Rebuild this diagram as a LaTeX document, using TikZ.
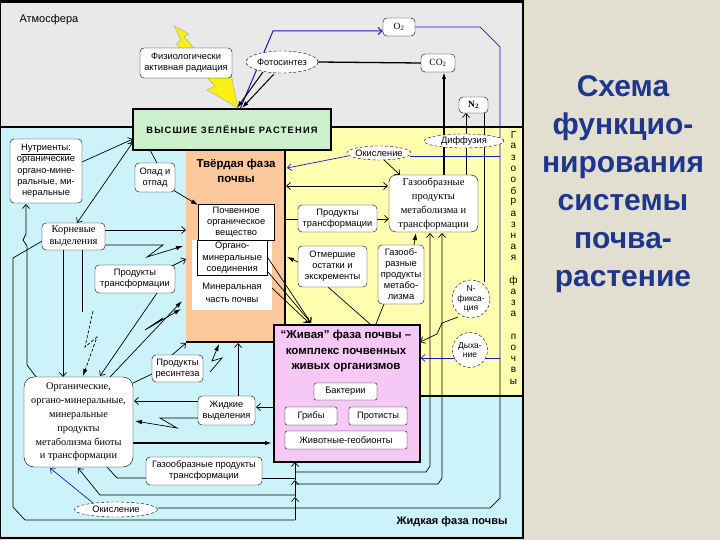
\documentclass[tikz,border=0pt]{standalone}
\usepackage{fontspec}
\setmainfont{Liberation Sans}
\newfontfamily\serfont{Liberation Serif}
\newfontfamily\spfont[LetterSpace=13]{Liberation Sans}
\usetikzlibrary{arrows.meta,shapes.geometric}
\definecolor{atm}{RGB}{233,233,233}
\definecolor{cyanbg}{RGB}{205,243,250}
\definecolor{yel}{RGB}{255,255,175}
\definecolor{orng}{RGB}{250,200,155}
\definecolor{grn}{RGB}{204,240,204}
\definecolor{pnk}{RGB}{245,200,245}
\definecolor{beige}{RGB}{226,222,208}
\definecolor{ttl}{RGB}{30,55,140}
\definecolor{bln}{RGB}{25,25,190}
\definecolor{bolt}{RGB}{250,240,20}
\pgfdeclarelayer{back}
\pgfdeclarelayer{lines}
\pgfsetlayers{back,lines,main}
\tikzset{
  bx/.style 2 args={draw, rounded corners=4pt, fill=white, align=center, inner sep=1pt,
    minimum width=#1, minimum height=#2, font=\fontsize{9.3}{11}\selectfont},
  sbx/.style 2 args={draw, fill=white, align=center, inner sep=1pt,
    minimum width=#1, minimum height=#2, font=\fontsize{9.3}{11}\selectfont},
  ell/.style 2 args={ellipse, draw, densely dashed, fill=white, inner xsep=-2pt, inner ysep=0pt,
    minimum width=#1, minimum height=#2, font=\fontsize{9.3}{10}\selectfont},
  circ/.style={circle, draw, densely dashed, fill=white, inner sep=-1pt, align=center,
    minimum size=#1, font=\fontsize{8.5}{9.5}\selectfont},
  oa/.style={-{Straight Barb[length=4pt,width=7pt]}},
  oaa/.style={{Straight Barb[length=4pt,width=7pt]}-{Straight Barb[length=4pt,width=7pt]}},
  fa/.style={-{Latex[length=7pt,width=4.5pt]}},
  blueln/.style={draw=bln},
  vlet/.style={font=\fontsize{10}{10}\selectfont, inner sep=0pt},
}
\begin{document}
\begin{tikzpicture}[x=1pt,y=-1pt]
\useasboundingbox (0,0) rectangle (720,540);

% ---------- regions ----------
\begin{pgfonlayer}{back}
\fill[beige] (0,0) rectangle (720,540);
\fill[atm] (0,3) rectangle (522,127);
\fill[cyanbg] (0,127) rectangle (522,536);
\fill[yel] (285,127) rectangle (522,396);
\node[fill=orng, minimum width=99pt, minimum height=192pt, inner sep=0pt, anchor=north west] (solid) at (186,150) {};
\fill[white] (192,240) rectangle (272,310);
\draw[line width=1.6pt] (186,342) -- (285,342) -- (285,150);
\draw[line width=1.6pt] (0,127) -- (522,127);
\draw[line width=1.6pt] (419,396) -- (522,396);
\draw[line width=2.5pt] (0,1.5) -- (523,1.5) -- (523,538) -- (0,538);
\draw[line width=1pt] (0,1.5) -- (0,538);
\end{pgfonlayer}

% ---------- nodes ----------
\node[anchor=west, font=\fontsize{11}{12}\selectfont] (atmos) at (16,20) {Атмосфера};
\node[bx={92pt}{30pt}] (fiz) at (186,63) {Физиологически\\активная радиация};
\node[ell={72pt}{22pt}] (foto) at (282,62) {Фотосинтез};
\node[bx={32pt}{18pt}, font=\serfont\fontsize{9.5}{10}\selectfont] (o2) at (399,27) {O\textsubscript{2}};
\node[bx={34pt}{18pt}, font=\serfont\fontsize{9.5}{10}\selectfont] (co2) at (438,63) {CO\textsubscript{2}};
\node[bx={29pt}{16pt}, font=\serfont\bfseries\fontsize{9.5}{10}\selectfont] (n2) at (473.5,105) {N\textsubscript{2}};

\node[draw, fill=grn, line width=1.6pt, minimum width=198pt, minimum height=41pt, inner sep=0pt,
  font=\spfont\bfseries\fontsize{9.3}{10}\selectfont] (green) at (232,129.5) {ВЫСШИЕ ЗЕЛЁНЫЕ РАСТЕНИЯ};

\node[font=\bfseries\fontsize{11.5}{15}\selectfont, align=center] (solidt) at (236,171) {Твёрдая фаза\\почвы};
\node[sbx={76pt}{36pt}, anchor=north west, font=\fontsize{9.3}{11.3}\selectfont] (pochv) at (198,204) {Почвенное\\органическое\\вещество};
\node[sbx={70pt}{35pt}, anchor=north west, font=\fontsize{9.3}{11.3}\selectfont] (organo) at (197,240) {Органо-\\минеральные\\соединения};
\node[align=center, font=\fontsize{9.3}{13}\selectfont, inner sep=0pt] (miner) at (232,293) {Минеральная\\часть почвы};

\node[bx={72pt}{64pt}, font=\fontsize{9.3}{11.3}\selectfont] (nutr) at (46,171) {\underline{Нутриенты:}\\органические\\органо-мине-\\ральные, ми-\\неральные};
\node[bx={40pt}{29pt}] (opad) at (155,177.5) {Опад и\\отпад};
\node[bx={63pt}{27pt}, font=\serfont\fontsize{10.5}{12}\selectfont] (korn) at (73.5,236.5) {Корневые\\выделения};
\node[bx={80pt}{28pt}] (prodL) at (135,279) {Продукты\\трансформации};

\node[bx={79pt}{27pt}] (prodT) at (337.5,218.5) {Продукты\\трансформации};
\node[bx={69pt}{41pt}] (otm) at (332.5,266.5) {Отмершие\\остатки и\\экскременты};
\node[bx={46pt}{59pt}, font=\fontsize{9.3}{11}\selectfont] (gazmet) at (401,274.5) {Газооб-\\разные\\продукты\\метабо-\\лизма};
\node[bx={89pt}{57pt}, font=\serfont\fontsize{10.5}{14}\selectfont, rounded corners=7pt] (gazbig) at (433.5,203.5) {Газообразные\\продукты\\метаболизма и\\трансформации};
\node[ell={64pt}{14pt}] (okis1) at (379,153) {Окисление};
\node[ell={80pt}{14pt}] (diff) at (464,141) {Диффузия};
\node[circ=38pt] (nfix) at (471,299) {N-\\фикса-\\ция};
\node[circ=35pt] (dyh) at (470,350) {Дыха-\\ние};

\node[draw, fill=pnk, line width=1.6pt, minimum width=146pt, minimum height=137pt, inner sep=0pt, anchor=north west] (pink) at (273,324) {};
\node[font=\bfseries\fontsize{11.5}{15.5}\selectfont, align=center] (pinkt) at (346,351.5) {“Живая” фаза почвы –\\комплекс почвенных\\живых организмов};
\node[sbx={63pt}{17pt}, rounded corners=2pt] (bakt) at (345.5,391.5) {Бактерии};
\node[sbx={52pt}{18pt}, rounded corners=2pt] (grib) at (311,416) {Грибы};
\node[sbx={58pt}{18pt}, rounded corners=2pt] (prot) at (378,416) {Протисты};
\node[sbx={122pt}{18pt}, rounded corners=2pt] (zhiv) at (346,440) {Животные-геобионты};

\node[bx={51pt}{27pt}] (resin) at (177.5,368.5) {Продукты\\ресинтеза};
\node[bx={57pt}{29pt}] (zhid) at (226.5,410.5) {Жидкие\\выделения};
\node[bx={109pt}{90pt}, rounded corners=10pt, font=\serfont\fontsize{10.3}{13.8}\selectfont] (big) at (78.5,422) {Органические,\\органо-минеральные,\\минеральные\\продукты\\метаболизма биоты\\и трансформации};
\node[bx={116pt}{28pt}] (gastr) at (204,471) {Газообразные продукты\\трансформации};
\node[ell={83pt}{15pt}] (okis2) at (116,509.5) {Окисление};

\node[anchor=east, font=\bfseries\fontsize{11}{12}\selectfont] (zhf) at (511,522) {Жидкая фаза почвы};

\foreach \ch [count=\i from 0] in {Г,а,з,о,о,б,р,а,з,н,а,я,{},ф,а,з,а,{},п,о,ч,в,ы}
  \node[vlet] (v\i) at (513.5,135+11.2*\i) {\ch};

\node[font=\bfseries\fontsize{30}{38}\selectfont, text=ttl, align=center, inner sep=0pt] (title) at (623,184) {Схема\\функцио-\\нирования\\системы\\почва-\\растение};

% ---------- connectors ----------
\begin{pgfonlayer}{lines}
\begin{scope}[line width=0.7pt]
% lightning (physiologically active radiation)
\filldraw[fill=bolt, draw=gray!70, line width=0.4pt]
  (174,26) -- (189,34) -- (184,37) -- (222,78) -- (231,74) -- (238,108) -- (207,90) -- (215,86) -- (176,44) -- (181,40) -- cycle;
% atmosphere
\draw[blueln, line width=1pt, oa] (240,109) -- (273,31) -- (o2.west |- 0,31);
\draw[line width=1pt, fa] (263,72) -- (237,108);
\draw[line width=1pt, fa] (274,74) -- (242,108);
\draw[line width=1.3pt] (foto.east) -- (co2.west);
\draw[blueln] (o2.east) -- (480,27) -- (500,47) -- (500,358);
\draw[blueln, oa] (500,358) -- (pink.east |- 0,358);
\draw[line width=1.6pt, fa] (444,175) -- (444,72);
\draw[oa] (466,134) -- (466,113);
\draw (466,148) -- (466,175);
\draw (484,113) -- (484,282);
% yellow zone
\draw[blueln, oa] (348,156) -- (287,168);
\draw[blueln] (410,156) -- (500,156);
\draw[oa] (384,160) -- (400,175);
\draw[oaa] (286,186) -- (388,186);
\draw (285,219) -- (prodT.west |- 0,219);
\draw[oa] (prodT.east |- 0,219) -- (389,219);
\draw[fa] (298,262) -- (287,257);
\draw (328,287) -- (370,324);
\draw[fa] (414,245) -- (416,233);
\draw (384,304) -- (376,324);
\draw[oa] (268,258) -- (311,323);
\draw[oa] (268,272) -- (311,323);
\draw[oa] (272,288) -- (309,323);
\draw[oa] (458,317) -- (442,323) -- (437,334) -- (420,342);
% left zone
\draw[oa] (82,162) -- (133,139);
\draw[oaa] (133,142) -- (77,223);
\draw (150,150) -- (157,163);
\draw[fa] (173,190) -- (198,205);
\draw[oa] (105,230) -- (186,230);
\draw[fa] (105,245) -- (163,245) -- (147,257) -- (183,246);
\draw[oa] (172,266) -- (186,259);
\draw[oa] (157,293) -- (100,376);
\draw[fa] (110,377) -- (182,301);
\draw[fa] (163,318) -- (145,330) -- (181,309);
\draw (44,240) -- (13,258) -- (13,507) -- (25,520) -- (295,520);
\draw[oa] (37,378) -- (27,365) -- (27,246) -- (23,240) -- (26,234) -- (26,204);
\draw[oa] (63,250) -- (63,377);
\draw (82,250) -- (82,312);
\draw[densely dashed, fa] (93,311) -- (85,347) -- (97,337) -- (83,376);
\draw (152,374) -- (133,383);
\draw[oa] (172,355) -- (186,343);
\draw[oa] (238,396) -- (238,343);
\draw[fa] (210,372) -- (222,358) -- (212,361) -- (219,344);
\draw[oa] (198,401) -- (134,401);
\draw[fa] (198,418) -- (160,418) -- (177,428) -- (135,421);
\draw[oa] (273,407) -- (256,407);
\draw[line width=1.4pt, fa] (133,443) -- (272,443);
% bottom lines
\draw (107,467) -- (117,478) -- (146,478);
\draw (262,478) -- (295,478);
\draw[oa] (295,520) -- (295,497);
\draw[oa] (295,497) -- (295,480);
\draw[oa] (295,480) -- (295,462);
\draw[oa] (295,495) -- (100,495) -- (78,468);
\draw[oa] (295,472) -- (426,472) -- (430,466) -- (430,233);
\draw[oa] (295,484) -- (438,484) -- (442,478) -- (442,233);
\draw[blueln, oa] (93,503) -- (50,468);
\draw (158,508) -- (490,508) -- (500,498) -- (500,358);
\end{scope}
\end{pgfonlayer}
\end{tikzpicture}
\end{document}
